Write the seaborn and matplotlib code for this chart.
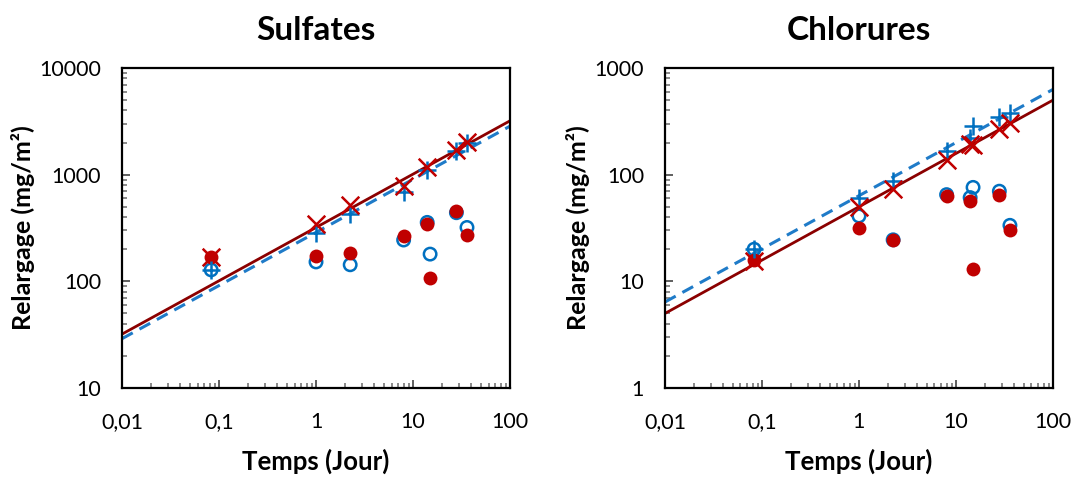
import matplotlib
matplotlib.use("Agg")
import matplotlib.pyplot as plt
import matplotlib.ticker as mticker
import seaborn as sns
import numpy as np

# ---------------- data ----------------
# Sulfates
s_t = [0.083, 1, 2.25, 8, 14, 15, 28, 36]
s_blue_open = [128, 152, 143, 244, 357, 180, 440, 320]
s_red_fill = [170, 173, 183, 266, 342, 107, 456, 273]
s_t_cum = [0.083, 1, 2.25, 8, 14, 28, 36]
s_blue_plus = [128, 285, 428, 692, 1103, 1675, 1965]
s_red_x = [170, 342, 519, 782, 1186, 1700, 2010]
s_line_x = [0.01, 100]
s_line_red = [32, 3200]
s_line_blue = [29, 2850]

# Chlorures
c_t = [0.083, 1, 2.25, 8, 14, 15, 28, 36]
c_blue_open = [20, 41, 24.5, 65, 61, 76, 70, 33.5]
c_red_fill = [16, 31.4, 24.4, 63, 57, 13, 64, 30]
c_t_cum = [0.083, 1, 2.25, 8, 14, 15, 28, 36]
c_blue_plus = [20, 60, 88, 168, 219, 286, 344, 380]
c_red_x = [15.6, 50, 73, 137, 196, 189, 266, 307]
c_line_x = [0.01, 100]
c_line_red = [5.0, 500]
c_line_blue = [6.4, 630]

x_ticks = [0.01, 0.1, 1, 10, 100]
x_ticklabels = ["0,01", "0,1", "1", "10", "100"]

BLUE = "#0070C0"
BLUE_LINE = "#1F7BC8"
RED = "#C00000"
DARKRED = "#8B0000"

sns.set_style("white")
plt.rcParams["font.family"] = ["Lato", "DejaVu Sans"]
plt.rcParams["text.color"] = "black"
plt.rcParams["axes.labelcolor"] = "black"
plt.rcParams["xtick.labelcolor"] = "black"
plt.rcParams["ytick.labelcolor"] = "black"

fig = plt.figure(figsize=(10.76, 4.78), dpi=100)
ax1 = fig.add_axes([0.1134, 0.1883, 0.3606, 0.6694])
ax2 = fig.add_axes([0.618, 0.1883, 0.3606, 0.6694])


def draw(ax, title, t, bo, rf, tc, bp, rx, lx, lr, lb, ylim, yticks):
    sns.lineplot(x=lx, y=lb, ax=ax, color=BLUE_LINE, lw=2.2, linestyle=(0, (4, 2.5)), zorder=2)
    sns.lineplot(x=lx, y=lr, ax=ax, color=DARKRED, lw=2.0, zorder=2)
    sns.scatterplot(x=t, y=bo, ax=ax, marker="o", facecolor="none", edgecolor=BLUE,
                    linewidth=1.8, s=80, zorder=3)
    sns.scatterplot(x=t, y=rf, ax=ax, marker="o", color=RED, edgecolor=RED,
                    linewidth=0, s=100, zorder=4)
    sns.scatterplot(x=tc, y=bp, ax=ax, marker="+", color=BLUE, linewidth=1.8, s=170, zorder=5)
    sns.scatterplot(x=tc, y=rx, ax=ax, marker="x", color=RED, linewidth=1.8, s=160, zorder=6)
    ax.set_xscale("log")
    ax.set_yscale("log")
    ax.set_xlim(0.01, 100)
    ax.set_ylim(*ylim)
    ax.set_xticks(x_ticks)
    ax.set_xticklabels(x_ticklabels)
    ax.set_yticks(yticks)
    ax.set_yticklabels([str(v) for v in yticks])
    ax.xaxis.set_minor_locator(mticker.LogLocator(base=10, subs=np.arange(2, 10)))
    ax.yaxis.set_minor_locator(mticker.LogLocator(base=10, subs=np.arange(2, 10)))
    ax.xaxis.set_minor_formatter(mticker.NullFormatter())
    ax.yaxis.set_minor_formatter(mticker.NullFormatter())
    ax.tick_params(axis="both", which="both", bottom=True, left=True, top=False, right=False)
    ax.tick_params(axis="both", which="major", direction="in", length=5.5, width=1.2,
                   labelsize=15.5, color="#444444", labelcolor="black")
    ax.tick_params(axis="both", which="minor", direction="in", length=3.5, width=1.2,
                   color="#777777")
    ax.tick_params(axis="y", which="major", pad=15)
    ax.tick_params(axis="x", which="major", pad=17)
    for sp in ax.spines.values():
        sp.set_color("black")
        sp.set_linewidth(1.6)
    ax.set_title(title, fontsize=24, fontweight="bold", pad=20, color="black")
    ax.set_xlabel("Temps (Jour)", fontsize=18.5, fontweight="bold", labelpad=12, color="black")
    ax.set_ylabel("Relargage (mg/m²)", fontsize=18, fontweight="bold", labelpad=3, color="black")


draw(ax1, "Sulfates", s_t, s_blue_open, s_red_fill, s_t_cum, s_blue_plus, s_red_x,
     s_line_x, s_line_red, s_line_blue, (10, 10000), [10, 100, 1000, 10000])
draw(ax2, "Chlorures", c_t, c_blue_open, c_red_fill, c_t_cum, c_blue_plus, c_red_x,
     c_line_x, c_line_red, c_line_blue, (1, 1000), [1, 10, 100, 1000])

fig.savefig("out.png", dpi=100)
